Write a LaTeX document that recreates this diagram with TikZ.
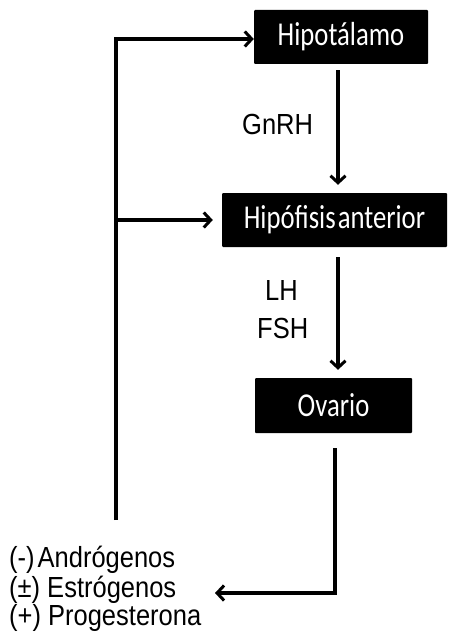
\documentclass[tikz,border=0pt]{standalone}
\usepackage{fontspec}
\setmainfont{Liberation Sans}
\newfontfamily\boxfont{Carlito}
\usetikzlibrary{arrows.meta}
\tikzset{
  organ/.style={fill=black, text=white, inner sep=0pt, rounded corners=1pt,
    font=\boxfont\fontsize{26.7}{30}\selectfont},
  arr/.style={line width=3.5pt, -{Straight Barb[length=7pt,width=15pt,line width=3pt]}},
  plain/.style={line width=3.5pt},
  lbl/.style={inner sep=0pt, anchor=base west, font=\fontsize{25.5}{28}\selectfont}
}
\newcommand{\vst}[1]{\scalebox{1}[1.14]{#1}}
\newcommand{\vsb}[1]{\scalebox{1}[1.25]{#1}}
\begin{document}
\begin{tikzpicture}[x=1pt,y=-1pt]
\useasboundingbox (0,0) rectangle (450,639);
\node[organ, minimum width=174pt, minimum height=54pt] (hip) at (341,37) {\vsb{Hipotálamo}};
\node[organ, minimum width=225pt, minimum height=54pt] (hipo) at (334.5,220) {\vsb{Hipófisis\hspace{2pt}anterior}};
\node[organ, minimum width=157pt, minimum height=55pt] (ova) at (333.5,405.5) {\vsb{Ovario}};
\node[lbl] (gnrh) at (242,135) {\vst{GnRH}};
\node[lbl] (lh) at (265,300) {\vst{LH}};
\node[lbl] (fsh) at (257,338) {\vst{FSH}};
\node[lbl] (t1) at (9,567) {\vst{(-)\hspace{3pt}Andrógenos}};
\node[lbl] (t2) at (9,597) {\vst{(±) Estrógenos}};
\node[lbl] (t3) at (9,625) {\vst{(+) Progesterona}};
\coordinate (fbtop) at (116,39);
\coordinate (fbmid) at (116,220);
\coordinate (fbbot) at (116,520);
\coordinate (tip) at (215,593);
\draw[arr] ([xshift=-3pt,yshift=-6pt]hip.south) -- ([xshift=3.5pt,yshift=8pt]hipo.north);
\draw[arr] ([xshift=3.5pt,yshift=-10pt]hipo.south) -- ([xshift=4.5pt,yshift=8pt]ova.north);
\draw[arr] ([xshift=1.5pt,yshift=-15pt]ova.south) |- (tip);
\draw[plain] (fbbot) -- (fbtop);
\draw[arr] ([xshift=-1.75pt]fbtop) -- (hip.west |- fbtop);
\draw[arr] (fbmid) -- ([xshift=-9pt]hipo.west);
\end{tikzpicture}
\end{document}
